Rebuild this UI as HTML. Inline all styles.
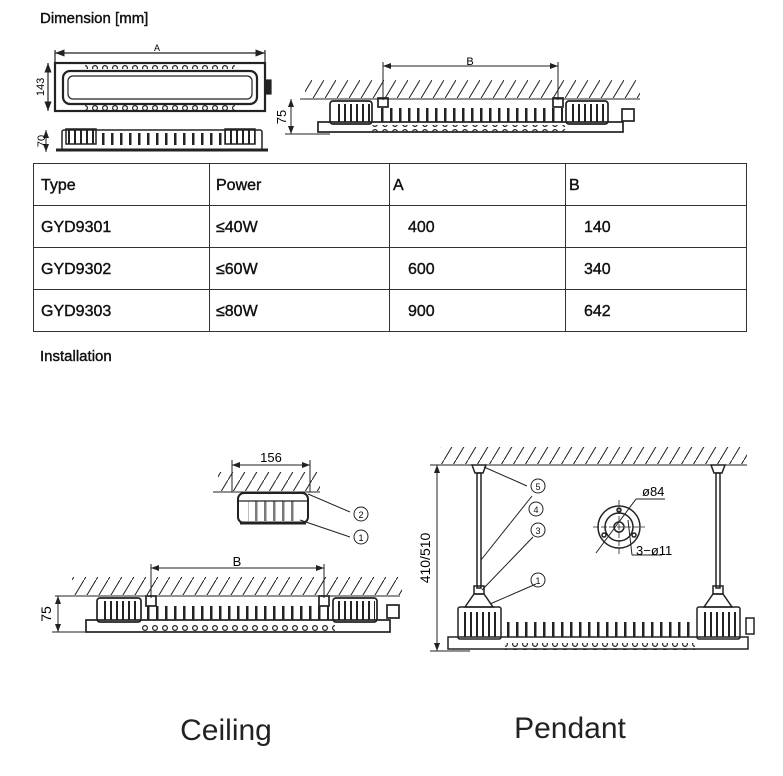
<!DOCTYPE html>
<html><head><meta charset="utf-8"><style>
html,body{margin:0;padding:0;background:#fff;}
body{width:783px;height:776px;overflow:hidden;position:relative;font-family:"Liberation Sans",sans-serif;}
</style></head><body>
<svg width="783" height="776" viewBox="0 0 783 776" xmlns="http://www.w3.org/2000/svg" style="position:absolute;left:0;top:0">
<defs>
<pattern id="hat" width="12" height="20" patternUnits="userSpaceOnUse"><line x1="0" y1="20" x2="12" y2="0" stroke="#222" stroke-width="1"/></pattern>
<pattern id="fin" width="9" height="40" patternUnits="userSpaceOnUse"><rect x="3" y="0" width="2.5" height="40" fill="#222"/></pattern>
<pattern id="fin2" width="6" height="40" patternUnits="userSpaceOnUse"><rect x="2" y="0" width="2" height="40" fill="#222"/></pattern>
<pattern id="dots" width="10" height="8" patternUnits="userSpaceOnUse"><circle cx="5" cy="4" r="2.4" fill="none" stroke="#222" stroke-width="1.2"/></pattern>
<marker id="ar" markerWidth="8" markerHeight="6" refX="8" refY="3" orient="auto-start-reverse"><path d="M0,0 L8,3 L0,6 z" fill="#222"/></marker>
</defs>
<g font-family="Liberation Sans, sans-serif" fill="#111" stroke="#111" stroke-width="0.4">
<text x="40" y="23" font-size="15">Dimension [mm]</text>
<text x="40" y="361" font-size="15">Installation</text>
</g>

<!-- top-left plan view -->
<g stroke="#222" fill="none" stroke-width="1.2">
<line x1="55" y1="53" x2="265" y2="53" marker-start="url(#ar)" marker-end="url(#ar)"/>
<line x1="55" y1="50" x2="55" y2="63"/><line x1="265" y1="50" x2="265" y2="63"/>
<rect x="55" y="63" width="210" height="48" stroke-width="2.2"/>
<rect x="63" y="71" width="194" height="33" rx="7" stroke-width="2.2"/>
<rect x="68" y="76" width="184" height="23" rx="5"/>
<rect x="265" y="80" width="6" height="14" fill="#222"/>
<line x1="48" y1="63" x2="48" y2="111" marker-start="url(#ar)" marker-end="url(#ar)"/>
</g>
<rect x="85" y="64" width="150" height="5" fill="url(#dots)"/>
<rect x="85" y="105" width="150" height="5" fill="url(#dots)"/>
<text x="157" y="51" font-size="9" text-anchor="middle">A</text>
<text transform="translate(47,87) rotate(-90)" font-size="11" text-anchor="middle" dy="-3">143</text>
<!-- side view -->
<g stroke="#222" fill="none" stroke-width="1.5">
<rect x="62" y="130" width="200" height="20" rx="2"/>
<rect x="66" y="129" width="30" height="15" fill="url(#fin2)"/>
<rect x="225" y="129" width="30" height="15" fill="url(#fin2)"/>
<line x1="56" y1="150" x2="268" y2="150" stroke-width="3"/>
<line x1="46" y1="130" x2="46" y2="152" stroke-width="1" marker-start="url(#ar)" marker-end="url(#ar)"/>
</g>
<rect x="98" y="133" width="125" height="12" fill="url(#fin)"/>
<text transform="translate(47,141) rotate(-90)" font-size="11" text-anchor="middle" dy="-2">70</text>

<!-- top-right elevation -->
<rect x="305" y="80" width="335" height="18" fill="url(#hat)"/>
<line x1="300" y1="99" x2="640" y2="99" stroke="#222" stroke-width="1"/>
<g stroke="#222" fill="none" stroke-width="1.7">
<line x1="383" y1="66" x2="558" y2="66" stroke-width="1" marker-start="url(#ar)" marker-end="url(#ar)"/>
<line x1="383" y1="62" x2="383" y2="100" stroke-width="1"/><line x1="558" y1="62" x2="558" y2="100" stroke-width="1"/>
<rect x="330" y="101" width="42" height="23" rx="3"/>
<rect x="566" y="101" width="42" height="23" rx="3"/>
<rect x="378" y="98" width="10" height="9"/><rect x="553" y="98" width="10" height="9"/>
<rect x="318" y="122" width="305" height="10"/>
<rect x="622" y="109" width="12" height="12"/>
<line x1="291" y1="99" x2="291" y2="134" stroke-width="1" marker-start="url(#ar)" marker-end="url(#ar)"/>
<line x1="285" y1="134" x2="330" y2="134" stroke-width="1"/>
</g>
<rect x="334" y="104" width="36" height="18" fill="url(#fin2)"/>
<rect x="570" y="104" width="36" height="18" fill="url(#fin2)"/>
<rect x="375" y="108" width="188" height="14" fill="url(#fin)"/>
<rect x="370" y="125" width="195" height="7" fill="url(#dots)"/>
<text x="470" y="65" font-size="11" text-anchor="middle">B</text>
<text transform="translate(289,117) rotate(-90)" font-size="13" text-anchor="middle" dy="-3">75</text>

<!-- table -->
<g stroke="#333" stroke-width="1" fill="none">
<rect x="33.5" y="163.5" width="713" height="168"/>
<line x1="33" y1="205.5" x2="747" y2="205.5"/><line x1="33" y1="247.5" x2="747" y2="247.5"/><line x1="33" y1="289.5" x2="747" y2="289.5"/>
<line x1="209.5" y1="163" x2="209.5" y2="332"/><line x1="389.5" y1="163" x2="389.5" y2="332"/><line x1="565.5" y1="163" x2="565.5" y2="332"/>
</g>
<g font-size="16" fill="#111" stroke="#111" stroke-width="0.4">
<text x="41" y="190">Type</text><text x="216" y="190">Power</text><text x="393" y="190">A</text><text x="569" y="190">B</text>
<text x="41" y="232">GYD9301</text><text x="216" y="232">≤40W</text><text x="408" y="232">400</text><text x="584" y="232">140</text>
<text x="41" y="274">GYD9302</text><text x="216" y="274">≤60W</text><text x="408" y="274">600</text><text x="584" y="274">340</text>
<text x="41" y="316">GYD9303</text><text x="216" y="316">≤80W</text><text x="408" y="316">900</text><text x="584" y="316">642</text>
</g>

<!-- ceiling small fixture -->
<rect x="218" y="472" width="102" height="19" fill="url(#hat)"/>
<g stroke="#222" fill="none" stroke-width="1.3">
<line x1="213" y1="492" x2="320" y2="492" stroke-width="1"/>
<line x1="232" y1="465" x2="310" y2="465" stroke-width="1" marker-start="url(#ar)" marker-end="url(#ar)"/>
<line x1="232" y1="460" x2="232" y2="492" stroke-width="1"/><line x1="310" y1="460" x2="310" y2="492" stroke-width="1"/>
<rect x="238" y="493" width="70" height="30" rx="6" stroke-width="2"/>
<line x1="238" y1="501" x2="308" y2="501"/>
<line x1="240" y1="523" x2="306" y2="523" stroke-width="3"/>
<line x1="308" y1="494" x2="350" y2="512" stroke-width="1"/>
<line x1="300" y1="520" x2="350" y2="537" stroke-width="1"/>
<circle cx="361" cy="514" r="7" stroke-width="1"/><circle cx="361" cy="537" r="7" stroke-width="1"/>
</g>
<rect x="248" y="501" width="52" height="20" fill="url(#fin)" opacity="0.6"/>
<text x="271" y="462" font-size="13" text-anchor="middle">156</text>
<text x="361" y="518" font-size="9" text-anchor="middle">2</text>
<text x="361" y="541" font-size="9" text-anchor="middle">1</text>

<!-- ceiling big fixture -->
<rect x="72" y="577" width="330" height="18" fill="url(#hat)"/>
<g stroke="#222" fill="none" stroke-width="1.7">
<line x1="55" y1="596" x2="400" y2="596" stroke-width="1"/>
<line x1="151" y1="568" x2="324" y2="568" stroke-width="1" marker-start="url(#ar)" marker-end="url(#ar)"/>
<line x1="151" y1="564" x2="151" y2="598" stroke-width="1"/><line x1="324" y1="564" x2="324" y2="598" stroke-width="1"/>
<rect x="97" y="598" width="44" height="24" rx="3"/>
<rect x="333" y="598" width="44" height="24" rx="3"/>
<rect x="146" y="596" width="10" height="10"/><rect x="319" y="596" width="10" height="10"/>
<rect x="86" y="620" width="304" height="12"/>
<rect x="387" y="605" width="12" height="13"/>
<line x1="58" y1="596" x2="58" y2="632" stroke-width="1" marker-start="url(#ar)" marker-end="url(#ar)"/>
<line x1="52" y1="632" x2="95" y2="632" stroke-width="1"/>
</g>
<rect x="101" y="601" width="38" height="19" fill="url(#fin2)"/>
<rect x="337" y="601" width="38" height="19" fill="url(#fin2)"/>
<rect x="144" y="606" width="185" height="14" fill="url(#fin)"/>
<rect x="140" y="625" width="195" height="7" fill="url(#dots)"/>
<text x="237" y="566" font-size="13" text-anchor="middle">B</text>
<text transform="translate(55,614) rotate(-90)" font-size="14" text-anchor="middle" dy="-4">75</text>

<!-- pendant -->
<rect x="440" y="447" width="307" height="17" fill="url(#hat)"/>
<g stroke="#222" fill="none" stroke-width="1.5">
<line x1="430" y1="465" x2="747" y2="465" stroke-width="1"/>
<line x1="437" y1="465" x2="437" y2="651" stroke-width="1" marker-start="url(#ar)" marker-end="url(#ar)"/>
<line x1="430" y1="651" x2="470" y2="651" stroke-width="1"/>
<path d="M472,465 h14 l-3,8 h-8 z"/><path d="M711,465 h14 l-3,8 h-8 z"/>
<rect x="477" y="473" width="4" height="115"/><rect x="716" y="473" width="4" height="115"/>
<rect x="474" y="586" width="10" height="8"/><rect x="713" y="586" width="10" height="8"/>
<path d="M465,607 l9,-13 h10 l9,13 z"/><path d="M704,607 l9,-13 h10 l9,13 z"/>
<rect x="458" y="607" width="43" height="32" rx="2"/>
<rect x="697" y="607" width="43" height="32" rx="2"/>
<rect x="448" y="637" width="300" height="12"/>
<rect x="746" y="618" width="8" height="16"/>
<line x1="484" y1="467" x2="527" y2="486" stroke-width="1"/>
<line x1="481" y1="560" x2="532" y2="496" stroke-width="1"/>
<line x1="482" y1="590" x2="533" y2="537" stroke-width="1"/>
<line x1="490" y1="604" x2="536" y2="584" stroke-width="1"/>
<circle cx="538" cy="486" r="7" stroke-width="1"/><circle cx="536" cy="509" r="7" stroke-width="1"/>
<circle cx="538" cy="530" r="7" stroke-width="1"/><circle cx="538" cy="580" r="7" stroke-width="1"/>
<circle cx="619" cy="527" r="21"/><circle cx="619" cy="527" r="14"/><circle cx="619" cy="527" r="5"/>
<circle cx="619" cy="510" r="2"/><circle cx="604" cy="535" r="2"/><circle cx="634" cy="535" r="2"/>
<line x1="593" y1="527" x2="645" y2="527" stroke-width="0.8" stroke-dasharray="6,2"/>
<line x1="619" y1="500" x2="619" y2="554" stroke-width="0.8" stroke-dasharray="6,2"/>
<line x1="596" y1="553" x2="636" y2="499" stroke-width="1"/>
<line x1="636" y1="499" x2="665" y2="499" stroke-width="1"/>
<line x1="628" y1="520" x2="632" y2="555" stroke-width="1"/>
<line x1="632" y1="555" x2="662" y2="555" stroke-width="1"/>
</g>
<rect x="462" y="612" width="36" height="25" fill="url(#fin2)"/>
<rect x="701" y="612" width="36" height="25" fill="url(#fin2)"/>
<rect x="503" y="622" width="192" height="15" fill="url(#fin)"/>
<rect x="505" y="643" width="190" height="7" fill="url(#dots)"/>
<g font-size="9" text-anchor="middle" fill="#111">
<text x="538" y="490">5</text><text x="536" y="513">4</text><text x="538" y="534">3</text><text x="538" y="584">1</text>
</g>
<text x="642" y="496" font-size="13">ø84</text>
<text x="636" y="555" font-size="13">3−ø11</text>
<text transform="translate(430,558) rotate(-90)" font-size="14" text-anchor="middle">410/510</text>

<text x="226" y="740" font-size="30" text-anchor="middle" fill="#222">Ceiling</text>
<text x="570" y="738" font-size="30" text-anchor="middle" fill="#222">Pendant</text>
</svg>
</body></html>
